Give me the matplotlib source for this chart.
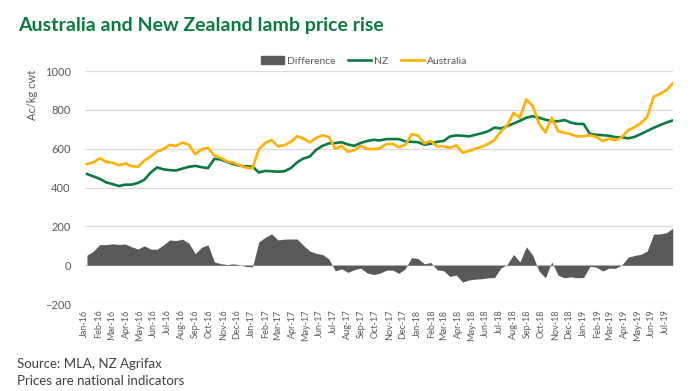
import numpy as np
import pandas as pd
import matplotlib
matplotlib.use("Agg")
import matplotlib.pyplot as plt
import matplotlib.dates as mdates
from matplotlib.patches import Patch
from matplotlib.lines import Line2D

plt.rcParams["font.family"] = ["Lato", "DejaVu Sans"]

# fortnightly price readings, A c/kg cwt
dates = pd.date_range("2016-01-06", periods=93, freq="14D")

nz = [470, 458, 445, 427, 418, 408, 415, 415, 424, 440,
      477, 504, 494, 490, 488, 498, 507, 512, 505, 500,
      548, 545, 532, 521, 513, 509, 508, 478, 486, 484,
      482, 484, 500, 530, 550, 560, 595, 615, 628, 629,
      634, 622, 615, 630, 640, 646, 643, 650, 650, 650,
      638, 636, 634, 621, 626, 636, 640, 663, 669, 667,
      664, 672, 680, 690, 709, 705, 716, 730, 744, 760,
      768, 760, 750, 743, 742, 748, 735, 728, 728, 676,
      672, 670, 667, 660, 659, 654, 661, 676, 692, 708,
      722, 735, 746]

australia = [521, 530, 551, 533, 528, 515, 524, 510, 507, 540,
             560, 586, 598, 620, 615, 632, 620, 572, 597, 605,
             565, 553, 535, 528, 515, 502, 500, 598, 630, 645,
             612, 618, 635, 665, 652, 633, 656, 670, 660, 600,
             615, 585, 592, 615, 600, 598, 602, 624, 625, 608,
             620, 675, 668, 628, 640, 612, 612, 605, 618, 580,
             588, 600, 610, 625, 645, 690, 720, 785, 760, 855,
             820, 730, 685, 760, 690, 683, 675, 663, 665, 670,
             662, 640, 652, 644, 660, 695, 711, 732, 765, 868,
             883, 902, 937]

difference = np.array(australia) - np.array(nz)

green = "#0B7A40"
orange = "#FFB000"
grey = "#595959"

fig = plt.figure(figsize=(7, 3.91), dpi=100)
ax = fig.add_axes([0.121, 0.2225, 0.84, 0.5955])

ax.fill_between(dates, difference, 0, color=grey, linewidth=0)
ax.plot(dates, nz, color=green, linewidth=1.9)
ax.plot(dates, australia, color=orange, linewidth=1.9)

ax.set_ylim(-200, 1000)
ax.set_yticks(range(-200, 1001, 200))
ax.set_xlim(pd.Timestamp("2016-01-01"), dates[-1])
ax.xaxis.set_major_locator(mdates.MonthLocator())
ax.xaxis.set_major_formatter(mdates.DateFormatter("%b-%y"))
ax.tick_params(axis="x", labelrotation=90, labelsize=6.5, colors=grey, length=0, pad=4)
ax.tick_params(axis="y", labelsize=8, colors=grey, length=0, pad=10)

ax.grid(axis="y", color="#D9D9D9", linewidth=0.9)
ax.set_axisbelow(True)
for s in ax.spines.values():
    s.set_visible(False)

fig.text(0.026, 0.936, "Australia and New Zealand lamb price rise",
         fontsize=14, fontweight="bold", color=green, va="center")
fig.text(0.046, 0.757, "Ac/kg cwt", rotation=90, fontsize=8, color=grey,
         ha="center", va="center")

handles = [Patch(color=grey), Line2D([], [], color=green, linewidth=1.9),
           Line2D([], [], color=orange, linewidth=1.9)]
fig.legend(handles, ["Difference", "NZ", "Australia"], loc="center",
           bbox_to_anchor=(0.52, 0.844), ncol=3, frameon=False, fontsize=7.5,
           handlelength=2.2, columnspacing=1.2, handletextpad=0.3,
           labelcolor=grey)

fig.text(0.024, 0.07, "Source: MLA, NZ Agrifax", fontsize=9.5, color="#404040", va="center")
fig.text(0.024, 0.026, "Prices are national indicators", fontsize=9.5, color="#404040", va="center")

fig.savefig("out.png", dpi=100)
